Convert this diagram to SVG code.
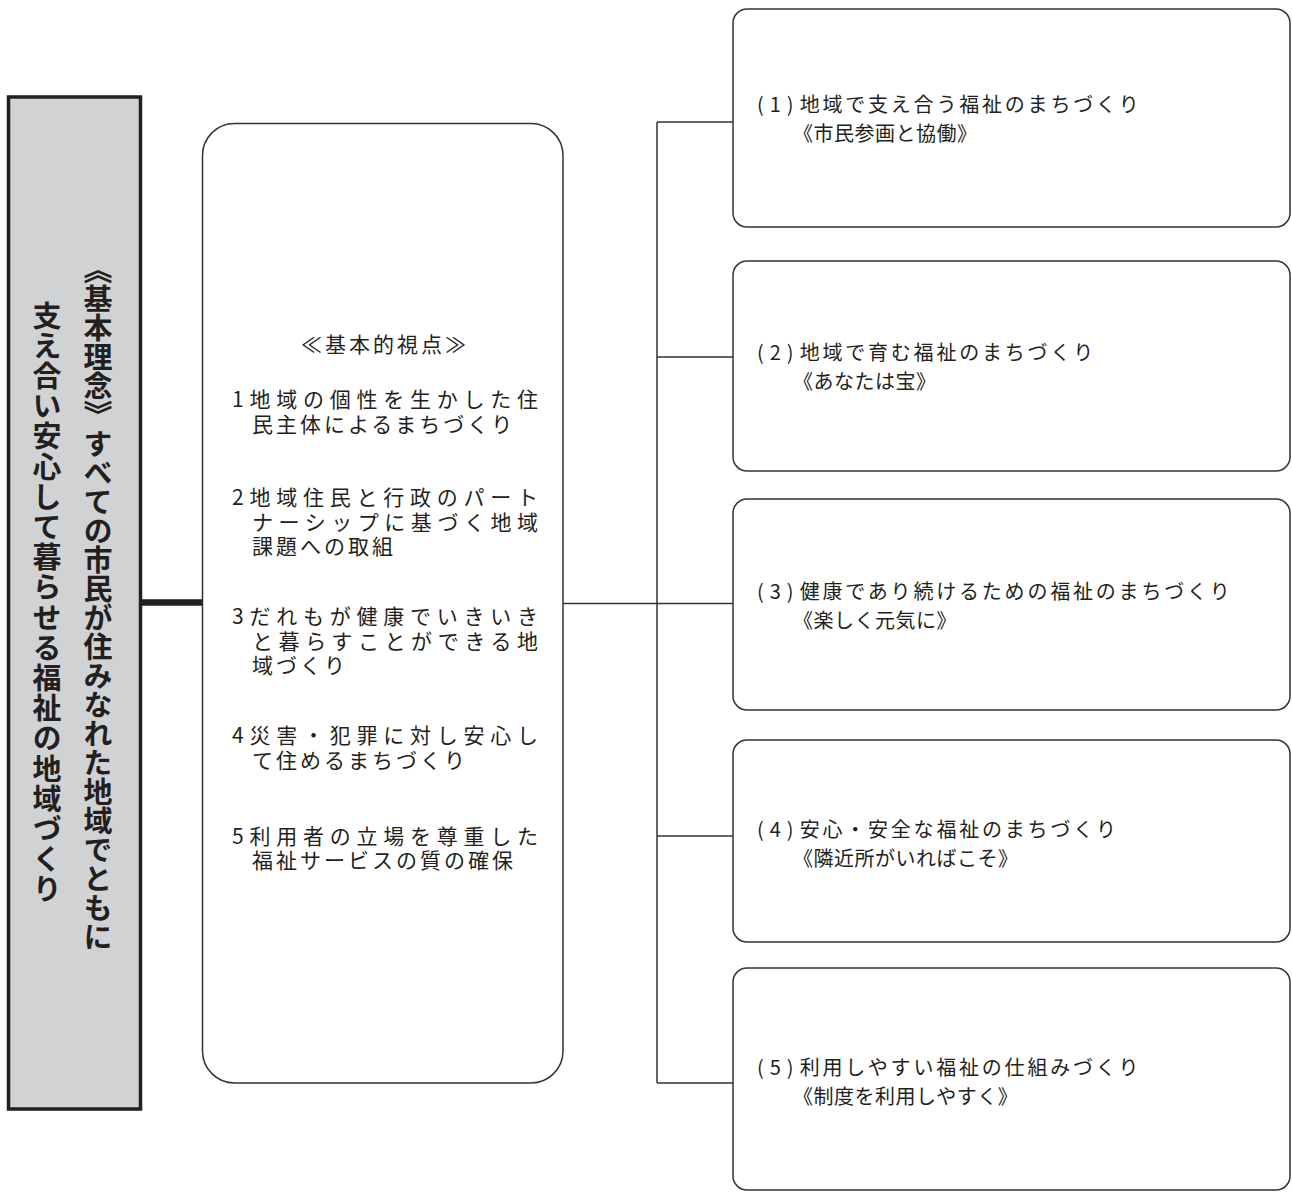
<svg xmlns="http://www.w3.org/2000/svg" width="1292" height="1192" viewBox="0 0 1292 1192">
  <style>
    .jp { font-family: "Noto Sans CJK JP", "Noto Sans", "Liberation Sans", sans-serif; fill: #231f20; }
    .vt { font-size: 29px; font-weight: bold; writing-mode: vertical-rl; }
    .mid { font-size: 21px; }
    .sp { letter-spacing: 3px; }
    .rt1 { font-size: 20px; letter-spacing: 2.8px; }
    .pre { letter-spacing: 6px; }
    .rt2 { font-size: 20px; letter-spacing: 0.5px; }
    .rbox { fill: #ffffff; stroke: #333333; stroke-width: 1.5; }
    .conn { fill: none; stroke: #333333; stroke-width: 1.5; }
  </style>
  <rect width="1292" height="1192" fill="#ffffff"/>

  <g id="connectors">
    <path class="conn" d="M141 602.5 H203" style="stroke:#231f20;stroke-width:6.5"/>
    <path class="conn" d="M563 603.5 H733"/>
    <path class="conn" d="M657 122 V1083"/>
    <path class="conn" d="M657 122 H733"/>
    <path class="conn" d="M657 357 H733"/>
    <path class="conn" d="M657 836 H733"/>
    <path class="conn" d="M657 1083 H733"/>
  </g>

  <g id="node-kihon-rinen">
    <rect x="8.5" y="97" width="132" height="1012" fill="#d1d2d4" stroke="#231f20" stroke-width="3.5"/>
    <text class="jp vt" x="98" y="603" text-anchor="middle">《基本理念》すべての市民が住みなれた地域でともに</text>
    <text class="jp vt" x="47" y="603" text-anchor="middle" style="letter-spacing:1.2px">支え合い安心して暮らせる福祉の地域づくり</text>
  </g>

  <g id="node-kihonteki-shiten">
    <rect class="rbox" x="202.5" y="123.5" width="360.5" height="959.5" rx="32" ry="32"/>
    <text class="jp mid sp" x="385" y="352" text-anchor="middle">≪基本的視点≫</text>
    <text class="jp mid" x="232" y="407" textLength="306" lengthAdjust="spacing">1地域の個性を生かした住</text>
    <text class="jp mid sp" x="252" y="432">民主体によるまちづくり</text>
    <text class="jp mid" x="232" y="505" textLength="306" lengthAdjust="spacing">2地域住民と行政のパート</text>
    <text class="jp mid" x="252" y="530" textLength="286" lengthAdjust="spacing">ナーシップに基づく地域</text>
    <text class="jp mid sp" x="252" y="554">課題への取組</text>
    <text class="jp mid" x="232" y="624" textLength="306" lengthAdjust="spacing">3だれもが健康でいきいき</text>
    <text class="jp mid" x="252" y="649" textLength="286" lengthAdjust="spacing">と暮らすことができる地</text>
    <text class="jp mid sp" x="252" y="673">域づくり</text>
    <text class="jp mid" x="232" y="743" textLength="306" lengthAdjust="spacing">4災害・犯罪に対し安心し</text>
    <text class="jp mid sp" x="252" y="768">て住めるまちづくり</text>
    <text class="jp mid" x="232" y="844" textLength="306" lengthAdjust="spacing">5利用者の立場を尊重した</text>
    <text class="jp mid sp" x="252" y="868">福祉サービスの質の確保</text>
  </g>

  <g id="node-1">
    <rect class="rbox" x="733" y="9" width="557" height="218" rx="14" ry="14"/>
    <text class="jp rt1" x="757" y="112"><tspan class="pre">(1)</tspan>地域で支え合う福祉のまちづくり</text>
    <text class="jp rt2" x="793" y="141">《市民参画と協働》</text>
  </g>

  <g id="node-2">
    <rect class="rbox" x="733" y="261" width="557" height="210" rx="14" ry="14"/>
    <text class="jp rt1" x="757" y="360"><tspan class="pre">(2)</tspan>地域で育む福祉のまちづくり</text>
    <text class="jp rt2" x="793" y="389">《あなたは宝》</text>
  </g>

  <g id="node-3">
    <rect class="rbox" x="733" y="499" width="557" height="211" rx="14" ry="14"/>
    <text class="jp rt1" x="757" y="599"><tspan class="pre">(3)</tspan>健康であり続けるための福祉のまちづくり</text>
    <text class="jp rt2" x="793" y="628">《楽しく元気に》</text>
  </g>

  <g id="node-4">
    <rect class="rbox" x="733" y="740" width="557" height="202" rx="14" ry="14"/>
    <text class="jp rt1" x="757" y="837"><tspan class="pre">(4)</tspan>安心・安全な福祉のまちづくり</text>
    <text class="jp rt2" x="793" y="866">《隣近所がいればこそ》</text>
  </g>

  <g id="node-5">
    <rect class="rbox" x="733" y="968" width="557" height="222" rx="14" ry="14"/>
    <text class="jp rt1" x="757" y="1075"><tspan class="pre">(5)</tspan>利用しやすい福祉の仕組みづくり</text>
    <text class="jp rt2" x="793" y="1104">《制度を利用しやすく》</text>
  </g>
</svg>
